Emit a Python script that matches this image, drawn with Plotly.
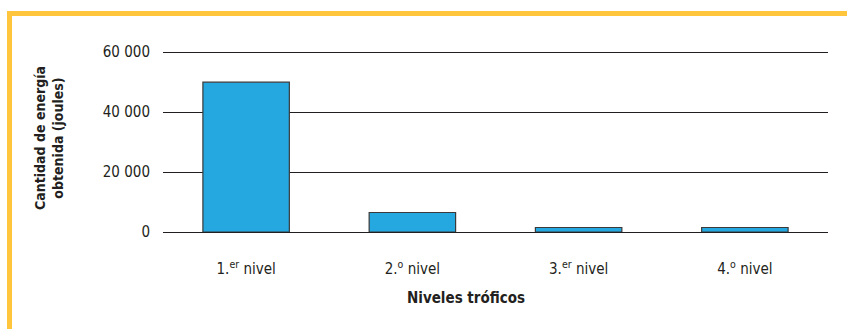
import plotly.graph_objects as go

# Energy obtained at each trophic level (joules)
niveles = ["1.<sup>er</sup> nivel", "2.<sup>o</sup> nivel", "3.<sup>er</sup> nivel", "4.<sup>o</sup> nivel"]
energia = [50000, 6500, 1500, 1500]

y_tickvals = [0, 20000, 40000, 60000]
y_ticktext = ["0", "20 000", "40 000", "60 000"]
y_max = 60400

W, H = 847, 329
ML, MR, MT, MB = 163, 19, 51, 97
FONT = "DejaVu Sans Condensed, Liberation Sans Narrow, Arial Narrow, sans-serif"
INK = "#231F20"
YELLOW = "#FEC53D"


def px_x(p):
    return (p - ML) / (W - ML - MR)


def px_y(p):
    return 1 - (p - MT) / (H - MT - MB)


fig = go.Figure(
    go.Bar(
        x=niveles,
        y=energia,
        marker=dict(color="#25A8E0", line=dict(color="#3A3A3A", width=1.2)),
        width=0.52,
    )
)

# Yellow frame along the top and left edges
frame = [
    (7, 11, W, 16),
    (7, 11, 12, H),
]
shapes = [
    dict(type="rect", xref="paper", yref="paper",
         x0=px_x(a), x1=px_x(c), y0=px_y(d), y1=px_y(b),
         fillcolor=YELLOW, line=dict(width=0), layer="below")
    for a, b, c, d in frame
]

fig.update_layout(
    width=W, height=H,
    margin=dict(l=ML, r=MR, t=MT, b=MB),
    paper_bgcolor="white", plot_bgcolor="white",
    font=dict(family=FONT, color=INK, size=15),
    showlegend=False,
    shapes=shapes,
    xaxis=dict(showline=False, showgrid=False, zeroline=False, ticks="",
               ticklabelstandoff=26,
               tickfont=dict(size=15, color=INK)),
    yaxis=dict(range=[0, y_max], tickvals=y_tickvals, ticktext=y_ticktext,
               showgrid=True, gridcolor=INK, gridwidth=1.3,
               zeroline=True, zerolinecolor=INK, zerolinewidth=1.3,
               showline=False, ticks="", ticklabelstandoff=12,
               tickfont=dict(size=15, color=INK)),
    annotations=[
        dict(text="<b>Cantidad de energía<br>obtenida (joules)</b>",
             xref="paper", yref="paper", x=px_x(49), y=px_y(138),
             textangle=-90, showarrow=False, xanchor="center", yanchor="middle",
             font=dict(size=14, color=INK, family=FONT)),
        dict(text="<b>Niveles tróficos</b>",
             xref="paper", yref="paper", x=px_x(466), y=px_y(298),
             showarrow=False, xanchor="center", yanchor="middle",
             font=dict(size=15, color=INK, family=FONT)),
    ],
)

fig.write_html("out.html")
